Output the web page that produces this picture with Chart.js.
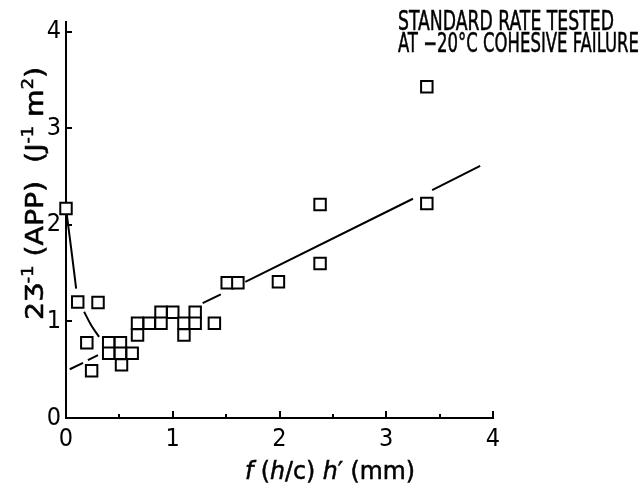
<!DOCTYPE html>
<html><head><meta charset="utf-8">
<script src="https://cdn.jsdelivr.net/npm/chart.js@4"></script>
<style>html,body{margin:0;padding:0;background:#fff;}#wrap{width:643px;height:487px;position:relative;}</style>
</head><body><div id="wrap"><canvas id="c" width="643" height="487"></canvas></div>
<script>
// ---- data ----
const xTickValues = [0, 0.5, 1, 1.5, 2, 2.5, 3, 3.5, 4];
const xTickLabels = ['0', '', '1', '', '2', '', '3', '', '4'];
const yTickValues = [0, 1, 2, 3, 4];
const yTickLabels = ['0', '1', '2', '3', '4'];

const pointX = [0, 0.11, 0.30, 0.195, 0.24, 0.40, 0.51, 0.40, 0.51, 0.62, 0.52, 0.67, 0.67, 0.78, 0.89, 0.89, 1.00, 1.105, 1.105, 1.21, 1.21, 1.39, 1.51, 1.61, 1.99, 2.38, 2.38, 3.38, 3.38];
const pointY = [2.17, 1.20, 1.195, 0.78, 0.49, 0.78, 0.78, 0.67, 0.67, 0.67, 0.55, 0.98, 0.86, 0.98, 1.095, 0.98, 1.095, 0.98, 0.86, 1.095, 0.98, 0.98, 1.40, 1.40, 1.41, 2.21, 1.60, 3.43, 2.22];

// drawn fit line (broken into segments; null = gap)
const fitLineX = [0.035, 0.16, 0.18, 0.205, 0.30, 0.8, 1.28, 1.45, 1.55, 1.68, 3.25, 3.34, 3.43, 3.88];
const fitLineY = [0.505, 0.57, null, 0.60, 0.65, null, 1.19, 1.28, null, 1.41, 2.27, null, 2.36, 2.61];

// drawn decay curve near the origin
const curveX = [0, 0.048, 0.095, 0.13, 0.17, 0.236, 0.31];
const curveY = [2.17, 1.76, 1.34, null, 1.10, 0.96, 0.84];

const titleLines = ['STANDARD RATE TESTED', 'AT \u221220\u00B0C COHESIVE FAILURE'];
const FONT = '"Liberation Sans Narrow","DejaVu Sans Condensed","Arial Narrow","Liberation Sans",sans-serif';

const toXY = (xs, ys) => xs.map((x, i) => ({x: x, y: ys[i]}));

function measureRuns(ctx, runs, baseSize) {
  let w = 0;
  for (const r of runs) {
    ctx.font = (r.italic ? 'italic ' : '') + Math.round(baseSize * (r.scale || 1)) + 'px ' + FONT;
    w += ctx.measureText(r.t).width;
  }
  return w;
}
function paintRuns(ctx, runs, baseSize, x, y, targetW) {
  const w = measureRuns(ctx, runs, baseSize);
  ctx.save();
  ctx.translate(x, y);
  ctx.scale(targetW / w, 1);
  ctx.lineWidth = 0.5;
  ctx.strokeStyle = '#000';
  let cx = 0;
  for (const r of runs) {
    ctx.font = (r.italic ? 'italic ' : '') + Math.round(baseSize * (r.scale || 1)) + 'px ' + FONT;
    ctx.fillText(r.t, cx, -(r.dy || 0) * baseSize);
    ctx.strokeText(r.t, cx, -(r.dy || 0) * baseSize);
    cx += ctx.measureText(r.t).width;
  }
  ctx.restore();
}

const decor = {
  id: 'decor',
  afterDraw(chart) {
    const ctx = chart.ctx;
    const xs = chart.scales.x, ys = chart.scales.y;
    const x0 = xs.getPixelForValue(0), y0 = ys.getPixelForValue(0);
    ctx.save();
    ctx.strokeStyle = '#000';
    ctx.lineWidth = 2;
    // inward tick marks
    xTickValues.forEach((v, i) => {
      const px = Math.round(xs.getPixelForValue(v));
      const len = xTickLabels[i] ? 7 : 4;
      ctx.beginPath(); ctx.moveTo(px, y0); ctx.lineTo(px, y0 - len); ctx.stroke();
    });
    yTickValues.forEach(v => {
      const py = Math.round(ys.getPixelForValue(v));
      ctx.beginPath(); ctx.moveTo(x0, py); ctx.lineTo(x0 + 6, py); ctx.stroke();
    });
    ctx.fillStyle = '#000';
    ctx.textBaseline = 'alphabetic';
    ctx.textAlign = 'left';
    // title lines
    paintRuns(ctx, [{t: titleLines[0]}], 27, 398, 30, 216);
    paintRuns(ctx, [{t: titleLines[1]}], 27, 398, 52, 241);
    // x axis title
    paintRuns(ctx, [
      {t: 'f', italic: true}, {t: ' ('}, {t: 'h', italic: true}, {t: '/c) '},
      {t: 'h', italic: true}, {t: '\u2032 (mm)'}
    ], 25, 245, 479, 170);
    // y axis title (rotated)
    ctx.save();
    ctx.translate(43, 320);
    ctx.rotate(-Math.PI / 2);
    paintRuns(ctx, [
      {t: '2\u01B7'}, {t: '-1', scale: 0.62, dy: 0.42}, {t: ' (APP)  (J'},
      {t: '-1', scale: 0.62, dy: 0.42}, {t: ' m'}, {t: '2', scale: 0.62, dy: 0.42}, {t: ')'}
    ], 24, 0, 0, 253);
    ctx.restore();
    ctx.restore();
  }
};

new Chart(document.getElementById('c'), {
  type: 'scatter',
  data: {
    datasets: [
      {
        data: toXY(pointX, pointY),
        pointStyle: 'rect', pointRadius: 8.1, pointHoverRadius: 8.1,
        pointBackgroundColor: '#fff', pointBorderColor: '#000', pointBorderWidth: 2,
        showLine: false, clip: false, order: 0
      },
      {
        data: toXY(fitLineX, fitLineY),
        showLine: true, spanGaps: false, borderColor: '#000', borderWidth: 2,
        pointRadius: 0, tension: 0, order: 1
      },
      {
        data: toXY(curveX, curveY),
        showLine: true, spanGaps: false, borderColor: '#000', borderWidth: 2,
        pointRadius: 0, tension: 0.4, cubicInterpolationMode: 'monotone', order: 1
      }
    ]
  },
  options: {
    responsive: false, animation: false, devicePixelRatio: 1,
    layout: {padding: {top: 22, right: 150, left: 0, bottom: 0}},
    plugins: {legend: {display: false}, tooltip: {enabled: false}},
    scales: {
      x: {
        type: 'linear', min: 0, max: 4,
        afterBuildTicks(s) { s.ticks = xTickValues.map(v => ({value: v})); },
        afterFit(s) { s.height = 69; },
        grid: {display: false, drawTicks: false},
        border: {display: true, color: '#000', width: 2},
        ticks: {
          autoSkip: false, maxRotation: 0, padding: 6, color: '#000',
          font: {family: FONT, size: 25},
          callback: (v) => xTickLabels[xTickValues.indexOf(v)]
        }
      },
      y: {
        type: 'linear', min: 0, max: 4.1,
        afterBuildTicks(s) { s.ticks = yTickValues.map(v => ({value: v})); },
        afterFit(s) { s.width = 66; },
        grid: {display: false, drawTicks: false},
        border: {display: true, color: '#000', width: 2},
        ticks: {
          padding: 5, color: '#000', font: {family: FONT, size: 25},
          callback: (v) => yTickLabels[yTickValues.indexOf(v)]
        }
      }
    }
  },
  plugins: [decor]
});
</script></body></html>
